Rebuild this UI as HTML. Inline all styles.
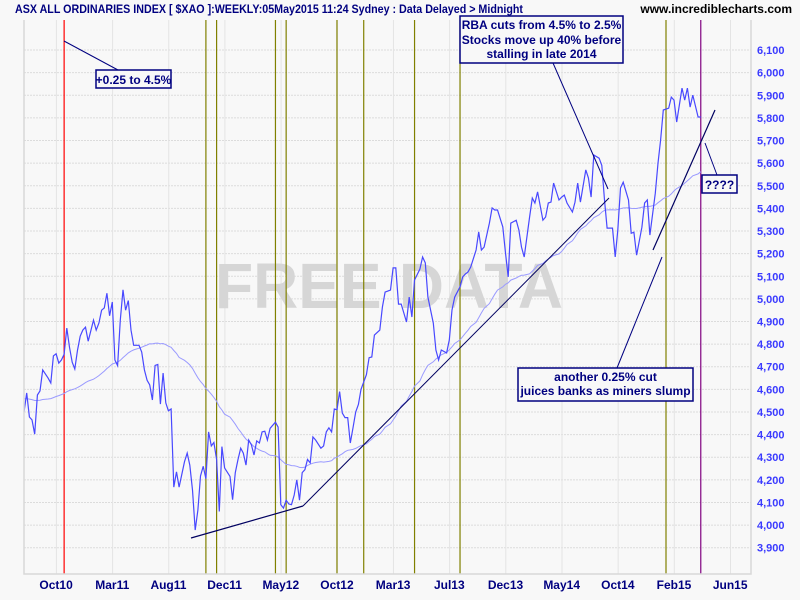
<!DOCTYPE html>
<html><head><meta charset="utf-8"><style>
html,body{margin:0;padding:0;background:#f8f8f8;}
svg{display:block;font-family:"Liberation Sans",Arial,sans-serif;}
</style></head><body>
<svg id="chart" width="800" height="600" xmlns="http://www.w3.org/2000/svg">
<rect x="0" y="0" width="800" height="600" fill="#f8f8f8"/>
<g id="grid"></g>
<text x="389" y="308" font-size="64" font-weight="bold" fill="#d6d6d6" textLength="348" lengthAdjust="spacingAndGlyphs" text-anchor="middle">FREE DATA</text>
<g id="events"></g>
<g id="series"></g>
<g id="axes"></g>
<g id="annot">
  <line x1="191" y1="538" x2="303" y2="506" stroke="#000060" stroke-width="1.2"/>
  <line x1="303" y1="506" x2="609" y2="198" stroke="#000060" stroke-width="1"/>
  <line x1="653" y1="250" x2="715" y2="110" stroke="#000060" stroke-width="1.2"/>
  <line x1="64" y1="41" x2="118" y2="70" stroke="#000080" stroke-width="1"/>
  <rect x="96" y="70" width="75" height="18" fill="#f8f8f8" stroke="#000080" stroke-width="1.5"/>
  <text x="133.5" y="84" font-size="12" font-weight="bold" fill="#000080" text-anchor="middle">+0.25 to 4.5%</text>
  <line x1="553" y1="63" x2="608" y2="189" stroke="#000080" stroke-width="1"/>
  <rect x="460" y="16" width="163" height="47" fill="#f8f8f8" stroke="#000080" stroke-width="1.5"/>
  <text font-size="12" font-weight="bold" fill="#000080" text-anchor="middle"><tspan x="541.5" y="29">RBA cuts from 4.5% to 2.5%</tspan><tspan x="541.5" y="44">Stocks move up 40% before</tspan><tspan x="541.5" y="58">stalling in late 2014</tspan></text>
  <line x1="617" y1="368" x2="662" y2="257" stroke="#000080" stroke-width="1"/>
  <rect x="518" y="368" width="175" height="33" fill="#f8f8f8" stroke="#000080" stroke-width="1.5"/>
  <text font-size="12" font-weight="bold" fill="#000080" text-anchor="middle"><tspan x="605.5" y="381">another 0.25% cut</tspan><tspan x="605.5" y="395">juices banks as miners slump</tspan></text>
  <line x1="705" y1="143" x2="717" y2="175" stroke="#000080" stroke-width="1"/>
  <rect x="702" y="175" width="35" height="18" fill="#f8f8f8" stroke="#000080" stroke-width="1.5"/>
  <text x="719.5" y="189" font-size="12" font-weight="bold" fill="#000080" text-anchor="middle">????</text>
</g>
<text x="15" y="13" font-size="12" font-weight="bold" fill="#000080" textLength="508" lengthAdjust="spacingAndGlyphs">ASX ALL ORDINARIES INDEX [ $XAO ]:WEEKLY:05May2015 11:24 Sydney : Data Delayed &gt; Midnight</text>
<text x="792" y="13" font-size="12" font-weight="bold" fill="#000000" text-anchor="end">www.incrediblecharts.com</text>
</svg>
<script>
const weekNumbers = [0,1,2,3,4,5,6,7,9,10,11,12,13,14,15,16,17,18,19,20,21,22,23,24,26,27,28,29,30,31,32,33,34,35,36,37,38,39,40,41,43,44,45,46,47,48,49,50,51,52,53,54,55,56,57,58,60,61,62,63,64,65,66,67,68,69,70,71,72,73,74,75,77,78,79,80,81,82,83,84,85,86,87,88,89,90,91,92,94,95,96,97,98,99,100,101,102,103,104,105,106,107,108,109,111,112,113,114,115,116,117,118,119,120,121,122,123,124,125,126,128,129,130,131,
133,134,135,137,138,139,140,141,143,144,145,146,148,149,150,151,153,154,155,156,158,159,160,161,163,164,165,166,167,169,170,171,172,174,175,176,177,179,180,181,182,184,185,186,187,189,190,191,192,194,195,196,197,198,200,201,202,203,205,206,207,208,210,211,212,213,215,216,217,218,220,221,222,223,224,226,227,228,229,231,232,233,234,236,237,238,239,241,242,243,244,246,247,248,249,250,252,253];
const closeValues = [4500,4584,4478,4465,4402,4575,4593,4686,4650,4628,4748,4757,4716,4730,4755,4871,4786,4720,4690,4773,4835,4862,4875,4813,4906,4862,4893,4950,4960,5025,4925,4986,4730,4705,4906,5040,4950,4993,4862,4795,4795,4765,4686,4640,4620,4553,4706,4710,4535,4672,4540,4505,4513,4168,4235,4168,4280,4318,4265,4155,3978,4067,4217,4260,4205,4412,4350,4365,4290,4060,4347,4253,4215,4112,4232,4290,4340,4318,4265,4376,4355,4310,4372,4363,4412,4415,4376,4428,4455,4433,4090,4075,4110,4093,4090,4133,4200,4110,4232,4245,4290,4275,4390,4376,4340,4350,4412,4430,4412,4513,4510,4590,4495,4475,4475,4363,4430,4500,4533,4600,4665,4740,4743,4840,
4862,4964,5030,5039,5137,5137,4977,4977,4898,5008,4920,5083,5132,5185,5159,5008,4893,4774,4730,4774,4761,4818,4951,5008,5053,5097,5110,5119,5141,5216,5296,5216,5229,5335,5402,5393,5393,5318,5203,5097,5335,5348,5304,5229,5185,5362,5446,5424,5473,5348,5362,5424,5428,5512,5437,5450,5459,5424,5384,5428,5512,5428,5570,5535,5450,5636,5622,5590,5437,5313,5313,5185,5304,5490,5516,5437,5290,5295,5193,5317,5424,5437,5282,5467,5600,5702,5835,5843,5892,5879,5782,5932,5879,5932,5848,5901,5804,5804];
const maStart = [4560,4560,4560,4560,4560,4560,4560,4560,4560,4560,4560,4560,4560,4560,4560,4560,4560,4560,4560,4560,4560,4560,4560,4560,4560,4560,4560,4560,4560,4560,4560,4560,4560,4560,4560,4560,4560,4560,4560];
const yTicks = [3900,4000,4100,4200,4300,4400,4500,4600,4700,4800,4900,5000,5100,5200,5300,5400,5500,5600,5700,5800,5900,6000,6100];
const xTickLabels = ["","Oct10","Mar11","Aug11","Dec11","May12","Oct12","Mar13","Jul13","Dec13","May14","Oct14","Feb15","Jun15"];
const xTickWeeks = [0,12,33,54,75,96,117,138,159,180,201,222,243,264];
const eventWeeks = [15,68,72,94,98,117,127,146,163,240,253];
const eventKinds = ["red","olive","olive","olive","olive","olive","olive","olive","olive","olive","purple"];
const maWindow = 40;

const NS = "http://www.w3.org/2000/svg";
const L = 24, R = 751, B = 574, T = 20;
const x = w => 24 + w * 2.675;
const y = v => 547.7 - (v - 3900) * 0.2262;
function mk(tag, attrs, parent){ const e = document.createElementNS(NS, tag); for (const k in attrs) e.setAttribute(k, attrs[k]); parent.appendChild(e); return e; }

const grid = document.getElementById('grid');
yTicks.forEach(v => {
  const ln = mk('line', {x1:L, x2:R, y1:y(v), y2:y(v), stroke:'#dcdcdc', 'stroke-width':1, 'stroke-dasharray':'2,1'}, grid);
  
  
});
xTickWeeks.forEach((w, i) => {
  if (i === 0) return;
  const gx = x(w) + 0.3;
  const ln = mk('line', {x1:gx, x2:gx, y1:T, y2:B, stroke:'#e4e4e4', 'stroke-width':1}, grid);
  
  
});

const ev = document.getElementById('events');
const colors = {red:'#ff0000', olive:'#808000', purple:'#800080'};
eventWeeks.forEach((w, i) => {
  const ex = x(w);
  const ln = mk('line', {x1:ex, x2:ex, y1:T, y2:B, stroke:colors[eventKinds[i]], 'stroke-width':1.2}, ev);
  
  
});

const axes = document.getElementById('axes');
const fr = mk('path', {d:`M${L},${T} V${B} H${R} V${T}`, fill:'none', stroke:'#d8d8d8', 'stroke-width':1.5}, axes);


yTicks.forEach(v => {
  const t = mk('text', {x:757, y:y(v)+4, 'font-size':11, 'font-weight':'bold', fill:'#3a3aff'}, axes);
  t.textContent = v.toLocaleString('en-US');
  
  
});
xTickLabels.forEach((lab, i) => {
  if (!lab) return;
  const t = mk('text', {x:x(xTickWeeks[i]), y:589, 'font-size':12, 'font-weight':'bold', fill:'#000080', 'text-anchor':'middle'}, axes);
  t.textContent = lab;
  
  
});

const ser = document.getElementById('series');
const padded = maStart.concat(closeValues);
const ma = closeValues.map((v, i) => { const j = i + maStart.length; const s = padded.slice(j - maWindow + 1, j + 1); return s.reduce((a, b) => a + b, 0) / s.length; });
const maPath = mk('path', {d: ma.map((v, i) => (i ? 'L' : 'M') + x(weekNumbers[i]).toFixed(1) + ',' + y(v).toFixed(1)).join(' '), fill:'none', stroke:'#9a9aff', 'stroke-width':1}, ser);


const pricePath = mk('path', {d: closeValues.map((v, i) => (i ? 'L' : 'M') + x(weekNumbers[i]).toFixed(1) + ',' + y(v).toFixed(1)).join(' '), fill:'none', stroke:'#4848ff', 'stroke-width':1.2}, ser);


</script>
</body></html>
